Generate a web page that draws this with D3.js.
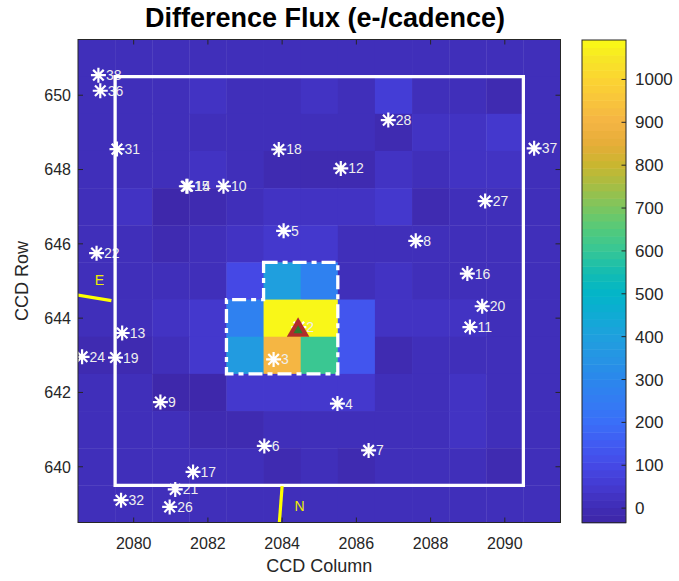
<!DOCTYPE html>
<html><head><meta charset="utf-8">
<script src="https://cdn.jsdelivr.net/npm/d3@7"></script>
<style>
body{margin:0;background:#fff;}
text{font-family:"Liberation Sans",Arial,Helvetica,sans-serif;}
</style>
</head><body>
<svg id="chart" width="679" height="581"></svg>
<script>
// ---------------- data ----------------
const columns = [2079,2080,2081,2082,2083,2084,2085,2086,2087,2088,2089,2090,2091];
const rows = [651,650,649,648,647,646,645,644,643,642,641,640,639];
const flux = [
  [  8,  8,  9,  8,  9,  8,  8,  9,  8,  8,  9,  8,  8],
  [  8, 10, 15, 25, 10, 18, 20, 15, 60, 15, 18,  0,  8],
  [  8, 12,  5,  5, 15, 15, 15, 15,-15, 20, 20, 40,  8],
  [  8, 12, 18, 25, 15, -5, -5,-10, 35, 15, 20, 20,  8],
  [  8, 20,-20,-15, 10, 32, 32, 32, 45,  0, 18, 15,  8],
  [  8, 10,-10,  5, 20, 48, 45, 10,  5, 10, 18, 12,  8],
  [  8, 12, 10, 18,105,400,275, 15, 20,  5, 15, 12,  8],
  [  5, 10, 25, 48,270,1092,1075,125, 20, 35, 20, 10,  8],
  [-15,-10, 10, 48,375,915,615,130, -5,  5, 12, 12,  8],
  [  8, 10,-25,-34, 40, 52, 52, 42, 15, 10, 20, 12,  8],
  [  8, 12, 10,  0, -5, 12, 12, 15, 15, 12, 20, 12,  8],
  [  8, 12, 12, 12,  8,-15, 10,-10,  8, 12, 18, -5,  8],
  [  8,  8,  9,  8,  8,  9,  8,  8,  9,  8,  8,  9,  8]
];
const xTicks = [2080,2082,2084,2086,2088,2090];
const yTicks = [640,642,644,646,648,650];
const cbTicks = [0,100,200,300,400,500,600,700,800,900,1000];
const starIds  = ["38","36","31","18","15","14","10","5","28","12","37","27","8","16","20","11","4","22","13","24","19","9","3","2","6","7","17","21","32","26"];
const starCols = [2079.05,2079.10,2079.55,2083.91,2081.42,2081.45,2082.42,2084.04,2086.86,2085.58,2090.79,2089.47,2087.60,2088.99,2089.39,2089.06,2085.49,2079.00,2079.69,2078.61,2079.51,2080.72,2083.77,2084.45,2083.52,2086.33,2081.60,2081.12,2079.66,2080.97];
const starRows = [650.54,650.12,648.55,648.54,647.55,647.55,647.55,646.35,649.33,648.03,648.57,647.15,646.08,645.20,644.32,643.76,641.70,645.75,643.60,642.96,642.94,641.74,642.89,643.76,640.56,640.44,639.86,639.39,639.10,638.92];
const targetPos = [2084.43, 643.70];
const apertureOutline = [[2083.5,645.5],[2085.5,645.5],[2085.5,642.5],[2082.5,642.5],[2082.5,644.5],[2083.5,644.5]];
const maskBox = [[2079.5,650.5],[2090.5,650.5],[2090.5,639.5],[2079.5,639.5]];
const compassE = [[2078.2,644.67],[2079.4,644.47]];
const compassN = [[2084.0,639.48],[2083.91,638.3]];
const compassLabels = [["E",2079.08,645.04],["N",2084.47,638.94]];
const colorStops = [-34,0,50,100,150,200,250,300,350,400,450,500,550,600,650,700,750,800,850,900,950,1000,1050,1092];
const colorHex = ["#3e26a8","#3f2cb4","#4439d0","#4549e6","#415bf2","#3a6ef8","#337cf3","#2b87ec","#2694e4","#1fa0de","#10abd4","#03b5c8","#13bcb2","#35c696","#52ca7c","#7ac660","#a4be45","#c8b630","#e6ad38","#f4b444","#f9c43c","#fbd432","#f7e625","#f9fb15"];

// ---------------- layout ----------------
const svg = d3.select("#chart");
const L = 78, R = 560.5, T = 39.5, B = 522.5;
const x = d3.scaleLinear().domain([2078.5,2091.5]).range([L,R]);
const y = d3.scaleLinear().domain([638.5,651.5]).range([B,T]);
const vmin = -34, vmax = 1092, nLev = 64;
const cmap = d3.scaleLinear().domain(colorStops).range(colorHex).interpolate(d3.interpolateRgb).clamp(true);
function color(v){
  let i = Math.floor((v - vmin) / (vmax - vmin) * nLev);
  i = Math.max(0, Math.min(nLev-1, i));
  return cmap(vmin + (i + 0.5) * (vmax - vmin) / nLev);
}
const ink = "#262626";

svg.append("defs").append("clipPath").attr("id","plotclip")
  .append("rect").attr("x",L).attr("y",T).attr("width",R-L).attr("height",B-T);

const plot = svg.append("g").attr("clip-path","url(#plotclip)");

// heatmap cells
const cells = [];
rows.forEach((r,ri)=>columns.forEach((c,ci)=>cells.push({c, r, v: flux[ri][ci]})));
plot.selectAll("rect.cell").data(cells).join("rect")
  .attr("class","cell")
  .attr("x", d=>x(d.c-0.5)).attr("y", d=>y(d.r+0.5))
  .attr("width", d=>x(d.c+0.5)-x(d.c-0.5)+0.4)
  .attr("height", d=>y(d.r-0.5)-y(d.r+0.5)+0.4)
  .attr("fill", d=>color(d.v));

// stars
const stars = starIds.map((id,i)=>({id, c: starCols[i], r: starRows[i]}));
const s = 7.5, sd = 5.3;
const starPath = `M${-s},0L${s},0M0,${-s}L0,${s}M${-sd},${-sd}L${sd},${sd}M${-sd},${sd}L${sd},${-sd}`;
plot.selectAll("path.star").data(stars).join("path")
  .attr("class","star")
  .attr("transform", d=>`translate(${x(d.c)},${y(d.r)})`)
  .attr("d", starPath)
  .attr("stroke","#ffffff").attr("stroke-width",2.2).attr("fill","none");
plot.selectAll("text.slabel").data(stars).join("text")
  .attr("class","slabel")
  .attr("x", d=>x(d.c)+7.5).attr("y", d=>y(d.r)+5)
  .attr("font-size",14).attr("fill","#eeeeee")
  .text(d=>d.id);

// mask box
const line = d3.line().x(d=>x(d[0])).y(d=>y(d[1]));
plot.append("path").attr("d", line(maskBox)+"Z")
  .attr("fill","none").attr("stroke","#ffffff").attr("stroke-width",3.3);

// aperture
plot.append("path").attr("d", line(apertureOutline)+"Z")
  .attr("fill","none").attr("stroke","#ffffff").attr("stroke-width",3.3)
  .attr("stroke-dasharray","14,5,5,5");

// compass
[compassE, compassN].forEach(seg=>{
  plot.append("path").attr("d", line(seg))
    .attr("stroke","#ffff00").attr("stroke-width",3.2).attr("fill","none");
});
plot.selectAll("text.clabel").data(compassLabels).join("text")
  .attr("class","clabel")
  .attr("x", d=>x(d[1])).attr("y", d=>y(d[2])+5)
  .attr("text-anchor","middle").attr("font-size",14).attr("fill","#eeee00")
  .text(d=>d[0]);

// target marker
const tx = x(targetPos[0]), ty = y(targetPos[1]);
plot.append("path")
  .attr("d", `M${tx},${ty-12}L${tx+11.3},${ty+7.5}L${tx-11.3},${ty+7.5}Z`)
  .attr("fill","#b02c2c");
plot.append("path")
  .attr("d", `M${tx},${ty-4}L${tx+4.6},${ty+4}L${tx-4.6},${ty+4}Z`)
  .attr("fill","#2e7a30");

// frame & ticks
svg.append("rect").attr("x",L).attr("y",T).attr("width",R-L).attr("height",B-T)
  .attr("fill","none").attr("stroke",ink).attr("stroke-width",1);
const tl = 5;
xTicks.forEach(t=>{
  svg.append("line").attr("x1",x(t)).attr("x2",x(t)).attr("y1",B).attr("y2",B-tl).attr("stroke",ink);
  svg.append("line").attr("x1",x(t)).attr("x2",x(t)).attr("y1",T).attr("y2",T+tl).attr("stroke",ink);
});
yTicks.forEach(t=>{
  svg.append("line").attr("x1",L).attr("x2",L+tl).attr("y1",y(t)).attr("y2",y(t)).attr("stroke",ink);
  svg.append("line").attr("x1",R).attr("x2",R-tl).attr("y1",y(t)).attr("y2",y(t)).attr("stroke",ink);
});
svg.selectAll("text.xt").data(xTicks).join("text").attr("class","xt")
  .attr("x", d=>x(d)).attr("y",548.5).attr("text-anchor","middle")
  .attr("font-size",16).attr("fill",ink).text(d=>d);
svg.selectAll("text.yt").data(yTicks).join("text").attr("class","yt")
  .attr("x", L-7).attr("y", d=>y(d)+5.8).attr("text-anchor","end")
  .attr("font-size",16).attr("fill",ink).text(d=>d);

// axis labels & title
svg.append("text").attr("x",(L+R)/2).attr("y",572).attr("text-anchor","middle")
  .attr("font-size",18).attr("fill",ink).text("CCD Column");
svg.append("text").attr("transform",`translate(28,${(T+B)/2}) rotate(-90)`)
  .attr("text-anchor","middle").attr("font-size",18).attr("fill",ink).text("CCD Row");
svg.append("text").attr("x",325).attr("y",27).attr("text-anchor","middle")
  .attr("font-size",27).attr("font-weight","bold").attr("fill","#000")
  .text("Difference Flux (e-/cadence)");

// colorbar
const cbX = 582, cbW = 44, cbT = 40, cbB = 522.7;
const cy = d3.scaleLinear().domain([vmin,vmax]).range([cbB,cbT]);
const bands = d3.range(nLev);
svg.selectAll("rect.band").data(bands).join("rect").attr("class","band")
  .attr("x",cbX).attr("width",cbW)
  .attr("y", i=>cy(vmin+(i+1)*(vmax-vmin)/nLev))
  .attr("height", i=>cy(vmin+i*(vmax-vmin)/nLev)-cy(vmin+(i+1)*(vmax-vmin)/nLev)+0.5)
  .attr("fill", i=>cmap(vmin+(i+0.5)*(vmax-vmin)/nLev));
svg.append("rect").attr("x",cbX).attr("y",cbT).attr("width",cbW).attr("height",cbB-cbT)
  .attr("fill","none").attr("stroke",ink).attr("stroke-width",1);
cbTicks.forEach(t=>{
  svg.append("line").attr("x1",cbX+cbW).attr("x2",cbX+cbW-4.5).attr("y1",cy(t)).attr("y2",cy(t)).attr("stroke",ink);
});
svg.selectAll("text.cbt").data(cbTicks).join("text").attr("class","cbt")
  .attr("x",635).attr("y", d=>cy(d)+6).attr("font-size",17).attr("fill",ink).text(d=>d);
</script>
</body></html>
